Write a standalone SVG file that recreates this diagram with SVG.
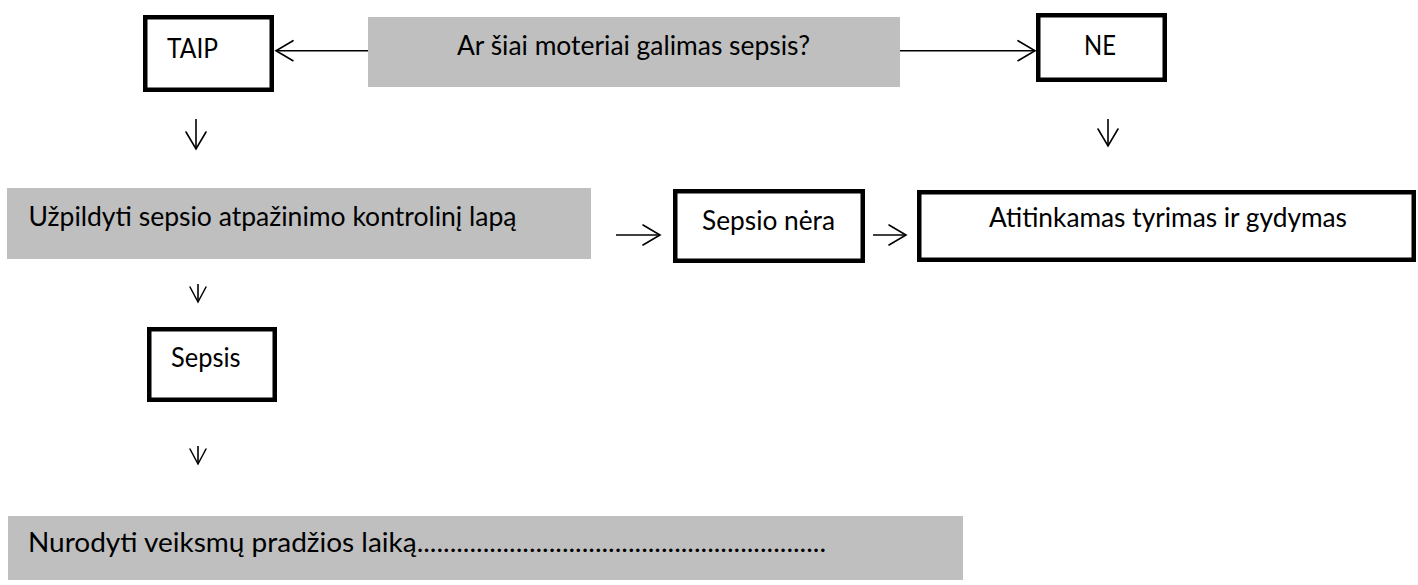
<svg xmlns="http://www.w3.org/2000/svg" width="1418" height="585" viewBox="0 0 1418 585">
<defs>
<style>
.gray{fill:#BFBFBF;stroke:none}
.box{fill:#FFFFFF;stroke:#000000;stroke-width:4.5}
.t{font-family:Lato,"Open Sans","Liberation Sans",sans-serif;font-size:26px;fill:#000000}
.c{fill:none;stroke:#000000;stroke-width:1.6}
</style>
<marker id="arr" viewBox="-2 -2 22 24" markerWidth="22" markerHeight="24" refX="17" refY="10" orient="auto" markerUnits="userSpaceOnUse">
<path d="M0,0 L17,10 L0,20" fill="none" stroke="#000" stroke-width="1.6" stroke-linecap="round" stroke-linejoin="miter"/>
</marker>
<marker id="arrS" viewBox="-2 -2 20 20" markerWidth="20" markerHeight="20" refX="15" refY="8" orient="auto" markerUnits="userSpaceOnUse">
<path d="M0,0 L15,8 L0,16" fill="none" stroke="#000" stroke-width="1.5" stroke-linecap="round"/>
</marker>
</defs>
<rect width="1418" height="585" fill="#FFFFFF"/>
<g id="connectors">
<path class="c" d="M368,50.7 L276,50.7" marker-end="url(#arr)"/>
<path class="c" d="M900,50.7 L1035,50.7" marker-end="url(#arr)"/>
<path class="c" d="M196,119 L196,149" marker-end="url(#arr)"/>
<path class="c" d="M1108,119 L1108,146" marker-end="url(#arr)"/>
<path class="c" d="M616,235 L660,235" marker-end="url(#arr)"/>
<path class="c" d="M873,235 L906,235" marker-end="url(#arr)"/>
<path class="c" d="M198,284 L198,302" marker-end="url(#arrS)"/>
<path class="c" d="M198,446 L198,464" marker-end="url(#arrS)"/>
</g>
<g id="question">
<rect class="gray" x="368" y="17" width="532" height="70"/>
<text class="t" x="457" y="55" textLength="353" lengthAdjust="spacingAndGlyphs">Ar šiai moteriai galimas sepsis?</text>
</g>
<g id="taip">
<rect class="box" x="145.25" y="17.25" width="126.5" height="72.5"/>
<text class="t" x="167" y="58" textLength="51" lengthAdjust="spacingAndGlyphs">TAIP</text>
</g>
<g id="ne">
<rect class="box" x="1038.25" y="15.25" width="126.5" height="64.5"/>
<text class="t" x="1084" y="55" textLength="32" lengthAdjust="spacingAndGlyphs">NE</text>
</g>
<g id="uzpildyti">
<rect class="gray" x="7" y="188" width="584" height="71"/>
<text class="t" x="28.5" y="225.7" textLength="488" lengthAdjust="spacingAndGlyphs">Užpildyti sepsio atpažinimo kontrolinį lapą</text>
</g>
<g id="sepsio-nera">
<rect class="box" x="675.25" y="191.25" width="187.5" height="69.5"/>
<text class="t" x="702" y="230" textLength="133" lengthAdjust="spacingAndGlyphs">Sepsio nėra</text>
</g>
<g id="atitinkamas">
<rect class="box" x="919.25" y="192.25" width="494.5" height="67.5"/>
<text class="t" x="989" y="227" textLength="358" lengthAdjust="spacingAndGlyphs">Atitinkamas tyrimas ir gydymas</text>
</g>
<g id="sepsis">
<rect class="box" x="149.25" y="329.25" width="125.5" height="70.5"/>
<text class="t" x="171" y="366.7" textLength="69.5" lengthAdjust="spacingAndGlyphs">Sepsis</text>
</g>
<g id="nurodyti">
<rect class="gray" x="8" y="516" width="955" height="64"/>
<text class="t" x="28" y="551.7" textLength="798" lengthAdjust="spacingAndGlyphs">Nurodyti veiksmų pradžios laiką..............................................................</text>
</g>
</svg>
